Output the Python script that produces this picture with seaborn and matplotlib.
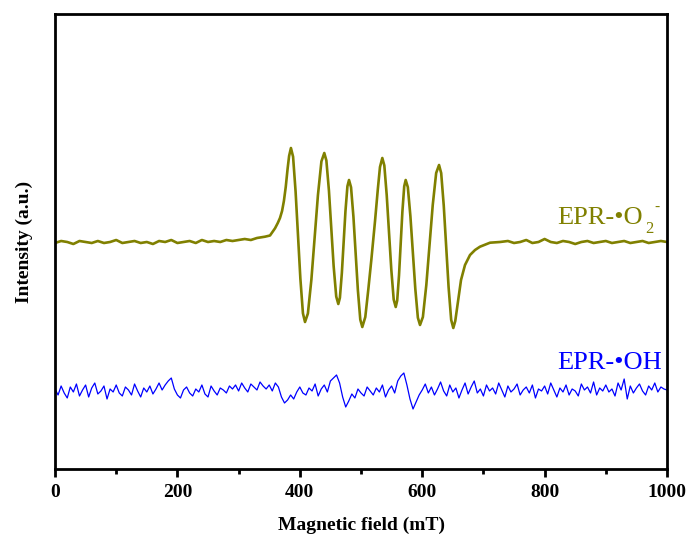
import matplotlib
matplotlib.use("Agg")
import matplotlib.pyplot as plt
import seaborn as sns
import pandas as pd

# ---- data ----
o2_field = [0, 10, 20, 30, 40, 50, 60, 70, 80, 90, 100, 110, 120, 130, 140, 150, 160, 170, 180, 190,
            200, 210, 220, 230, 240, 250, 260, 270, 280, 290, 300, 310, 320, 330, 343.1,
            351.3, 359.5, 364, 367.6, 371, 374, 377, 380, 382.5, 385.5,
            389, 393.1, 397, 400.9, 405.1, 408.5,
            413.2, 418.9, 424.25, 429.6, 435.3, 440,
            443.4, 447.6, 451.45, 455.3, 459.5, 462.9,
            465.5, 468.7, 471.65, 474.6, 477.8, 480.4,
            483.7, 487.6, 491.25, 494.9, 498.8, 502.1,
            507, 512, 517, 522.9, 527.5, 531, 534.8,
            538.1, 542.0, 545.75, 549.5, 553.4, 556.7,
            559.1, 562.1, 564.85, 567.6, 570.6, 573,
            576.5, 580.7, 584.7, 588.7, 592.9, 596.4,
            601.1, 606.7, 612, 617.2, 622.8, 627.5,
            631, 635.2, 639.15, 643.1, 647.3, 650.8,
            654, 658, 663.4, 669.9, 678.1, 686.3, 694.4, 710.8,
            727.1, 740, 750, 760, 770, 780, 790, 800, 810, 820, 830, 840, 850, 860, 870, 880, 890,
            900, 910, 920, 930, 940, 950, 960, 970, 980, 990, 1000]
o2_intensity = [226, 228, 227, 225, 228, 227, 226, 228, 226, 227, 229, 226, 227, 228, 226, 227, 225, 228, 227, 229,
                226, 227, 228, 226, 229, 227, 228, 227, 229, 228, 229, 230, 229, 231, 232.3,
                233.5, 240.7, 246, 251, 258, 268, 282, 300, 313, 321,
                312.3, 277.5, 234, 190.5, 155.7, 147,
                155.5, 189.3, 231.5, 273.8, 307.6, 316,
                308.5, 278.3, 240.5, 202.7, 172.5, 165,
                171.2, 196, 227, 258, 282.8, 289,
                281.7, 252.3, 215.5, 178.7, 149.4, 142,
                152, 180, 210, 248, 280, 302, 311,
                303.5, 273.8, 236.5, 199.3, 169.5, 162,
                168.4, 193.8, 225.5, 257.3, 282.7, 289,
                281.8, 252.8, 216.5, 180.3, 151.3, 144,
                152, 184, 224, 264, 296, 304,
                295.9, 263.3, 222.5, 181.8, 149.2, 141,
                148, 165.7, 189, 204, 214, 219, 222.3, 226.3,
                227, 228, 226, 227, 229, 226, 227, 230, 227, 226, 228, 227, 225, 227, 228, 226, 227,
                228, 226, 227, 228, 226, 227, 228, 226, 227, 228, 227]

oh_field = list(range(0, 1001, 5))
oh_intensity = [80, 74, 83, 76, 71, 82, 77, 85, 73, 79, 84, 72, 81, 86, 75, 78, 83, 70, 80, 77,
                84, 76, 73, 82, 79, 74, 85, 78, 72, 81, 77, 83, 75, 80, 86, 79, 84, 88, 91, 80,
                74, 71, 79, 82, 76, 73, 80, 77, 84, 75, 72, 83, 78, 74, 81, 79, 76, 83, 80, 84,
                78, 86, 81, 77, 85, 82, 79, 87, 83, 80, 84, 78, 86, 82, 72, 66, 69, 74, 70, 77,
                82, 76, 74, 81, 78, 85, 73, 80, 84, 77, 88, 91, 94, 86, 72, 62, 68, 75, 71, 80,
                76, 73, 82, 78, 74, 81, 77, 84, 72, 79, 83, 76, 88, 93, 96, 84, 70, 60, 67, 74,
                79, 85, 76, 82, 74, 80, 87, 78, 73, 84, 77, 81, 71, 79, 86, 75, 82, 88, 76, 80,
                73, 84, 78, 81, 75, 86, 79, 72, 83, 77, 80, 85, 74, 79, 82, 76, 84, 71, 80, 78,
                83, 75, 86, 79, 72, 81, 77, 84, 74, 80, 78, 73, 85, 79, 82, 76, 87, 74, 81, 78,
                84, 77, 80, 73, 86, 79, 90, 70, 83, 76, 81, 85, 78, 74, 83, 79, 86, 77, 82, 80,
                79]

x_ticks = [0, 200, 400, 600, 800, 1000]
x_minor = [100, 300, 500, 700, 900]

# ---- styling ----
sns.set_style("ticks", {"axes.edgecolor": "black", "xtick.color": "black",
                        "text.color": "black", "axes.labelcolor": "black"})
plt.rcParams["font.family"] = ["Liberation Serif", "DejaVu Serif"]

OLIVE = "#808000"
BLUE = "#0000FF"

fig = plt.figure(figsize=(6.91, 5.43), dpi=100)
ax = fig.add_axes([0.0796, 0.1363, 0.8857, 0.8379])

df_o2 = pd.DataFrame({"field": o2_field, "intensity": o2_intensity})
df_oh = pd.DataFrame({"field": oh_field, "intensity": oh_intensity})

sns.lineplot(data=df_o2, x="field", y="intensity", ax=ax, color=OLIVE, lw=1.9,
             estimator=None, sort=False)
sns.lineplot(data=df_oh, x="field", y="intensity", ax=ax, color=BLUE, lw=0.9,
             estimator=None, sort=False)

ax.set_xlim(0, 1000)
ax.set_ylim(0, 455)
ax.set_xticks(x_ticks)
ax.set_xticks(x_minor, minor=True)
ax.set_yticks([])
ax.tick_params(axis="x", which="major", direction="out", length=6, width=2,
               labelsize=14, pad=5, colors="black")
ax.tick_params(axis="x", which="minor", direction="out", length=3.5, width=2,
               colors="black")
for lab in ax.get_xticklabels():
    lab.set_fontweight("bold")
for sp in ax.spines.values():
    sp.set_linewidth(2)
    sp.set_color("black")
    sp.set_visible(True)

ax.set_xlabel("Magnetic field (mT)", fontsize=14, fontweight="bold", labelpad=11,
              color="black")
ax.set_ylabel("Intensity (a.u.)", fontsize=14, fontweight="bold", labelpad=16,
              color="black")

# species labels
ax.text(820, 245, "EPR-•O", color=OLIVE, fontsize=19, ha="left", va="baseline")
ax.text(964, 236, "2", color=OLIVE, fontsize=12, ha="left", va="baseline")
ax.text(979, 258, "-", color=OLIVE, fontsize=11, ha="left", va="baseline")
ax.text(992, 100, "EPR-•OH", color=BLUE, fontsize=19, ha="right", va="baseline")

fig.savefig("out.png", dpi=100)
